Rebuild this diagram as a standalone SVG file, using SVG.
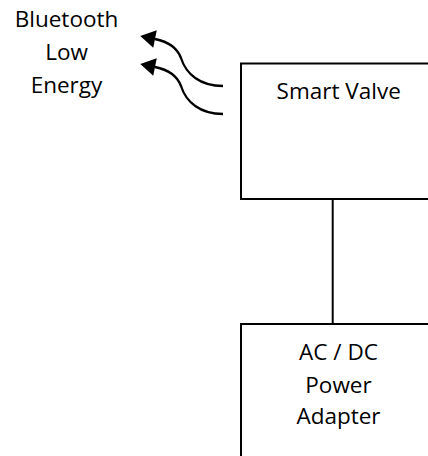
<svg xmlns="http://www.w3.org/2000/svg" width="428" height="456" viewBox="0 0 428 456">
  <style>
    .box { fill: #ffffff; stroke: #000000; stroke-width: 2; }
    .lbl { font-family: "Open Sans", "Liberation Sans", sans-serif; font-size: 22.5px; fill: #000000; text-anchor: middle; }
    .wire { stroke: #000000; stroke-width: 2; fill: none; }
    .wave { stroke: #000000; stroke-width: 2.3; fill: none; marker-start: url(#ah); }
  </style>
  <defs>
    <marker id="ah" markerUnits="userSpaceOnUse" viewBox="-1 -10 18 20" markerWidth="18" markerHeight="20" refX="0" refY="0" orient="auto-start-reverse" overflow="visible">
      <path d="M0,-9 L15,0 L0,9 z" fill="#000000"/>
    </marker>
  </defs>
  <rect width="428" height="456" fill="#ffffff"/>

  <g id="connectors">
    <line class="wire" x1="332.7" y1="199" x2="332.7" y2="324"/>
    <path class="wave" d="M155,39 C170,42 178,50 181,58 C186,74 200,86 223,86"/>
    <path class="wave" d="M155,67 C170,70 178,78 181,86 C186,102 200,114 223,114"/>
  </g>

  <g id="ble-label">
    <text class="lbl" x="66.5" y="27.3">Bluetooth</text>
    <text class="lbl" x="66.5" y="60">Low</text>
    <text class="lbl" x="66.5" y="92.7">Energy</text>
  </g>

  <g id="smart-valve">
    <rect class="box" x="241" y="63.5" width="200" height="135.5"/>
    <text class="lbl" x="338.7" y="99">Smart Valve</text>
  </g>

  <g id="power-adapter">
    <rect class="box" x="241" y="324" width="200" height="150"/>
    <text class="lbl" x="338.5" y="360">AC / DC</text>
    <text class="lbl" x="338.5" y="392.7">Power</text>
    <text class="lbl" x="338.5" y="424">Adapter</text>
  </g>
</svg>
